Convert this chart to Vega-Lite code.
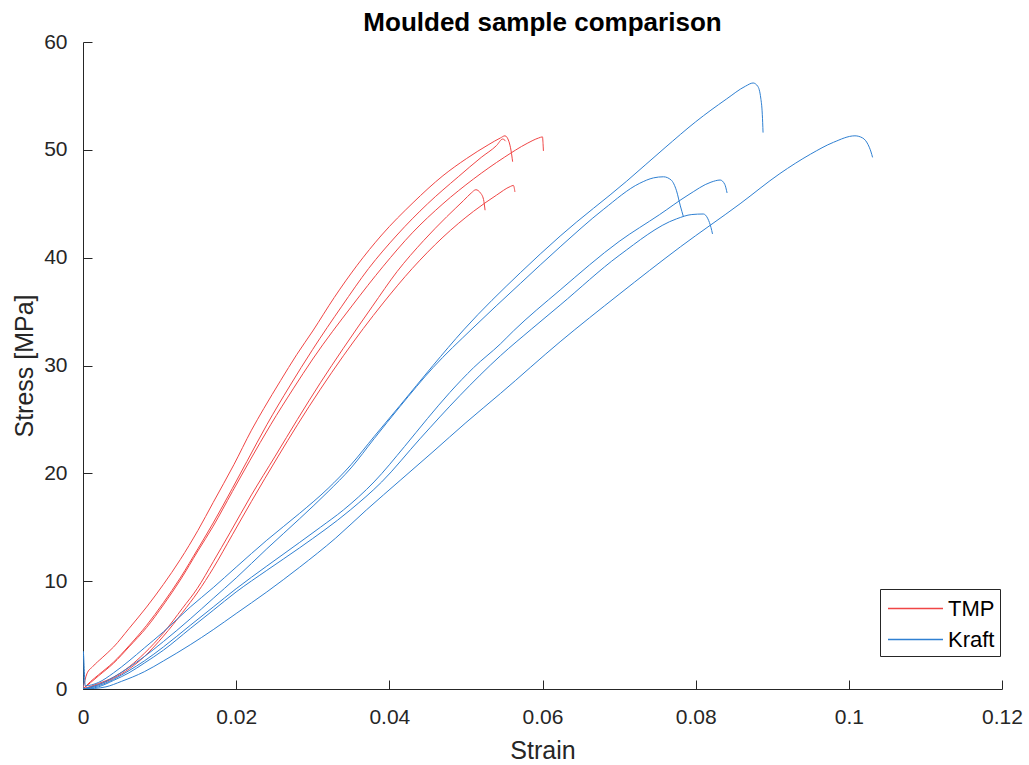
{
"$schema":"https://vega.github.io/schema/vega-lite/v6.json",
"width":919,"height":647,
"autosize":{"type":"none"},
"padding":{"left":83,"top":42,"right":27,"bottom":76},
"background":"white",
"title":{"text":"Moulded sample comparison","fontSize":26,"fontWeight":"bold","font":"Liberation Sans","color":"#000000","anchor":"middle","offset":-5},
"config":{"view":{"stroke":null},"axis":{"domainColor":"#262626","tickColor":"#262626","labelColor":"#262626","titleColor":"#262626","labelFont":"Liberation Sans","titleFont":"Liberation Sans","labelFontSize":21,"titleFontSize":25,"titleFontWeight":"normal","domainWidth":1,"tickWidth":1,"grid":false}},
"data":{"values":[
{"material":"TMP","specimen":"T1","idx":0,"strain":0,"stress":0},
{"material":"TMP","specimen":"T1","idx":1,"strain":0.0005,"stress":1.4},
{"material":"TMP","specimen":"T1","idx":2,"strain":0.0013,"stress":2.1},
{"material":"TMP","specimen":"T1","idx":3,"strain":0.0025,"stress":2.9},
{"material":"TMP","specimen":"T1","idx":4,"strain":0.004,"stress":3.9},
{"material":"TMP","specimen":"T1","idx":5,"strain":0.006,"stress":5.6},
{"material":"TMP","specimen":"T1","idx":6,"strain":0.0083,"stress":7.6},
{"material":"TMP","specimen":"T1","idx":7,"strain":0.0105,"stress":9.7},
{"material":"TMP","specimen":"T1","idx":8,"strain":0.0127,"stress":12.0},
{"material":"TMP","specimen":"T1","idx":9,"strain":0.015,"stress":14.7},
{"material":"TMP","specimen":"T1","idx":10,"strain":0.017,"stress":17.3},
{"material":"TMP","specimen":"T1","idx":11,"strain":0.0197,"stress":20.8},
{"material":"TMP","specimen":"T1","idx":12,"strain":0.022,"stress":24.0},
{"material":"TMP","specimen":"T1","idx":13,"strain":0.0236,"stress":26.0},
{"material":"TMP","specimen":"T1","idx":14,"strain":0.0258,"stress":28.6},
{"material":"TMP","specimen":"T1","idx":15,"strain":0.0279,"stress":31.0},
{"material":"TMP","specimen":"T1","idx":16,"strain":0.030,"stress":33.2},
{"material":"TMP","specimen":"T1","idx":17,"strain":0.0328,"stress":36.3},
{"material":"TMP","specimen":"T1","idx":18,"strain":0.0358,"stress":39.3},
{"material":"TMP","specimen":"T1","idx":19,"strain":0.039,"stress":42.1},
{"material":"TMP","specimen":"T1","idx":20,"strain":0.0431,"stress":45.1},
{"material":"TMP","specimen":"T1","idx":21,"strain":0.047,"stress":47.6},
{"material":"TMP","specimen":"T1","idx":22,"strain":0.0501,"stress":49.2},
{"material":"TMP","specimen":"T1","idx":23,"strain":0.053,"stress":50.5},
{"material":"TMP","specimen":"T1","idx":24,"strain":0.0545,"stress":51.1},
{"material":"TMP","specimen":"T1","idx":25,"strain":0.0551,"stress":51.3},
{"material":"TMP","specimen":"T1","idx":26,"strain":0.0556,"stress":50.8},
{"material":"TMP","specimen":"T1","idx":27,"strain":0.0559,"stress":49.9},
{"material":"TMP","specimen":"T1","idx":28,"strain":0.0561,"stress":48.9},
{"material":"TMP","specimen":"T2","idx":0,"strain":0,"stress":0},
{"material":"TMP","specimen":"T2","idx":1,"strain":0.001,"stress":0.7},
{"material":"TMP","specimen":"T2","idx":2,"strain":0.002,"stress":1.3},
{"material":"TMP","specimen":"T2","idx":3,"strain":0.004,"stress":2.5},
{"material":"TMP","specimen":"T2","idx":4,"strain":0.006,"stress":4.0},
{"material":"TMP","specimen":"T2","idx":5,"strain":0.0083,"stress":5.9},
{"material":"TMP","specimen":"T2","idx":6,"strain":0.0105,"stress":8.0},
{"material":"TMP","specimen":"T2","idx":7,"strain":0.0127,"stress":10.3},
{"material":"TMP","specimen":"T2","idx":8,"strain":0.015,"stress":13.0},
{"material":"TMP","specimen":"T2","idx":9,"strain":0.017,"stress":15.4},
{"material":"TMP","specimen":"T2","idx":10,"strain":0.0195,"stress":18.6},
{"material":"TMP","specimen":"T2","idx":11,"strain":0.0214,"stress":21.1},
{"material":"TMP","specimen":"T2","idx":12,"strain":0.024,"stress":24.5},
{"material":"TMP","specimen":"T2","idx":13,"strain":0.027,"stress":28.1},
{"material":"TMP","specimen":"T2","idx":14,"strain":0.030,"stress":31.5},
{"material":"TMP","specimen":"T2","idx":15,"strain":0.0338,"stress":35.5},
{"material":"TMP","specimen":"T2","idx":16,"strain":0.0373,"stress":39.0},
{"material":"TMP","specimen":"T2","idx":17,"strain":0.041,"stress":42.1},
{"material":"TMP","specimen":"T2","idx":18,"strain":0.045,"stress":45.0},
{"material":"TMP","specimen":"T2","idx":19,"strain":0.049,"stress":47.5},
{"material":"TMP","specimen":"T2","idx":20,"strain":0.052,"stress":49.3},
{"material":"TMP","specimen":"T2","idx":21,"strain":0.054,"stress":50.4},
{"material":"TMP","specimen":"T2","idx":22,"strain":0.0548,"stress":51.0},
{"material":"TMP","specimen":"T2","idx":23,"strain":0.0552,"stress":50.8},
{"material":"TMP","specimen":"T3","idx":0,"strain":0,"stress":0},
{"material":"TMP","specimen":"T3","idx":1,"strain":0.001,"stress":0.6},
{"material":"TMP","specimen":"T3","idx":2,"strain":0.002,"stress":1.2},
{"material":"TMP","specimen":"T3","idx":3,"strain":0.004,"stress":2.4},
{"material":"TMP","specimen":"T3","idx":4,"strain":0.006,"stress":3.9},
{"material":"TMP","specimen":"T3","idx":5,"strain":0.0083,"stress":5.7},
{"material":"TMP","specimen":"T3","idx":6,"strain":0.0105,"stress":7.8},
{"material":"TMP","specimen":"T3","idx":7,"strain":0.0127,"stress":10.1},
{"material":"TMP","specimen":"T3","idx":8,"strain":0.015,"stress":12.8},
{"material":"TMP","specimen":"T3","idx":9,"strain":0.017,"stress":15.1},
{"material":"TMP","specimen":"T3","idx":10,"strain":0.0195,"stress":18.3},
{"material":"TMP","specimen":"T3","idx":11,"strain":0.0218,"stress":21.2},
{"material":"TMP","specimen":"T3","idx":12,"strain":0.0245,"stress":24.5},
{"material":"TMP","specimen":"T3","idx":13,"strain":0.0275,"stress":27.9},
{"material":"TMP","specimen":"T3","idx":14,"strain":0.030,"stress":30.6},
{"material":"TMP","specimen":"T3","idx":15,"strain":0.0352,"stress":35.6},
{"material":"TMP","specimen":"T3","idx":16,"strain":0.0392,"stress":39.2},
{"material":"TMP","specimen":"T3","idx":17,"strain":0.043,"stress":42.3},
{"material":"TMP","specimen":"T3","idx":18,"strain":0.047,"stress":45.0},
{"material":"TMP","specimen":"T3","idx":19,"strain":0.051,"stress":47.3},
{"material":"TMP","specimen":"T3","idx":20,"strain":0.055,"stress":49.3},
{"material":"TMP","specimen":"T3","idx":21,"strain":0.058,"stress":50.6},
{"material":"TMP","specimen":"T3","idx":22,"strain":0.0595,"stress":51.1},
{"material":"TMP","specimen":"T3","idx":23,"strain":0.06,"stress":51.2},
{"material":"TMP","specimen":"T3","idx":24,"strain":0.06007,"stress":50.6},
{"material":"TMP","specimen":"T3","idx":25,"strain":0.06012,"stress":49.9},
{"material":"TMP","specimen":"T4","idx":0,"strain":0,"stress":0},
{"material":"TMP","specimen":"T4","idx":1,"strain":0.002,"stress":0.5},
{"material":"TMP","specimen":"T4","idx":2,"strain":0.004,"stress":1.1},
{"material":"TMP","specimen":"T4","idx":3,"strain":0.0061,"stress":2.1},
{"material":"TMP","specimen":"T4","idx":4,"strain":0.008,"stress":3.3},
{"material":"TMP","specimen":"T4","idx":5,"strain":0.0105,"stress":5.2},
{"material":"TMP","specimen":"T4","idx":6,"strain":0.013,"stress":7.5},
{"material":"TMP","specimen":"T4","idx":7,"strain":0.0149,"stress":9.3},
{"material":"TMP","specimen":"T4","idx":8,"strain":0.017,"stress":11.8},
{"material":"TMP","specimen":"T4","idx":9,"strain":0.0192,"stress":14.5},
{"material":"TMP","specimen":"T4","idx":10,"strain":0.022,"stress":18.0},
{"material":"TMP","specimen":"T4","idx":11,"strain":0.0251,"stress":21.6},
{"material":"TMP","specimen":"T4","idx":12,"strain":0.028,"stress":25.0},
{"material":"TMP","specimen":"T4","idx":13,"strain":0.031,"stress":28.4},
{"material":"TMP","specimen":"T4","idx":14,"strain":0.034,"stress":31.6},
{"material":"TMP","specimen":"T4","idx":15,"strain":0.0378,"stress":35.5},
{"material":"TMP","specimen":"T4","idx":16,"strain":0.041,"stress":38.7},
{"material":"TMP","specimen":"T4","idx":17,"strain":0.0445,"stress":41.6},
{"material":"TMP","specimen":"T4","idx":18,"strain":0.0475,"stress":43.8},
{"material":"TMP","specimen":"T4","idx":19,"strain":0.0497,"stress":45.3},
{"material":"TMP","specimen":"T4","idx":20,"strain":0.0507,"stress":46.0},
{"material":"TMP","specimen":"T4","idx":21,"strain":0.0513,"stress":46.3},
{"material":"TMP","specimen":"T4","idx":22,"strain":0.0519,"stress":46.0},
{"material":"TMP","specimen":"T4","idx":23,"strain":0.0523,"stress":45.4},
{"material":"TMP","specimen":"T4","idx":24,"strain":0.0525,"stress":44.4},
{"material":"TMP","specimen":"T5","idx":0,"strain":0,"stress":0},
{"material":"TMP","specimen":"T5","idx":1,"strain":0.002,"stress":0.4},
{"material":"TMP","specimen":"T5","idx":2,"strain":0.004,"stress":1.0},
{"material":"TMP","specimen":"T5","idx":3,"strain":0.0061,"stress":1.9},
{"material":"TMP","specimen":"T5","idx":4,"strain":0.008,"stress":3.0},
{"material":"TMP","specimen":"T5","idx":5,"strain":0.0105,"stress":4.9},
{"material":"TMP","specimen":"T5","idx":6,"strain":0.013,"stress":7.1},
{"material":"TMP","specimen":"T5","idx":7,"strain":0.015,"stress":9.0},
{"material":"TMP","specimen":"T5","idx":8,"strain":0.017,"stress":11.2},
{"material":"TMP","specimen":"T5","idx":9,"strain":0.0195,"stress":14.3},
{"material":"TMP","specimen":"T5","idx":10,"strain":0.022,"stress":17.4},
{"material":"TMP","specimen":"T5","idx":11,"strain":0.0255,"stress":21.6},
{"material":"TMP","specimen":"T5","idx":12,"strain":0.028,"stress":24.5},
{"material":"TMP","specimen":"T5","idx":13,"strain":0.031,"stress":27.8},
{"material":"TMP","specimen":"T5","idx":14,"strain":0.034,"stress":30.9},
{"material":"TMP","specimen":"T5","idx":15,"strain":0.0392,"stress":35.8},
{"material":"TMP","specimen":"T5","idx":16,"strain":0.043,"stress":39.0},
{"material":"TMP","specimen":"T5","idx":17,"strain":0.047,"stress":41.9},
{"material":"TMP","specimen":"T5","idx":18,"strain":0.051,"stress":44.3},
{"material":"TMP","specimen":"T5","idx":19,"strain":0.054,"stress":45.8},
{"material":"TMP","specimen":"T5","idx":20,"strain":0.0558,"stress":46.6},
{"material":"TMP","specimen":"T5","idx":21,"strain":0.0562,"stress":46.7},
{"material":"TMP","specimen":"T5","idx":22,"strain":0.0564,"stress":46.1},
{"material":"Kraft","specimen":"K1","idx":0,"strain":0,"stress":0},
{"material":"Kraft","specimen":"K1","idx":1,"strain":0.00002,"stress":3.5},
{"material":"Kraft","specimen":"K1","idx":2,"strain":0.0003,"stress":0.3},
{"material":"Kraft","specimen":"K1","idx":3,"strain":0.002,"stress":0.6},
{"material":"Kraft","specimen":"K1","idx":4,"strain":0.004,"stress":1.5},
{"material":"Kraft","specimen":"K1","idx":5,"strain":0.006,"stress":2.6},
{"material":"Kraft","specimen":"K1","idx":6,"strain":0.008,"stress":3.8},
{"material":"Kraft","specimen":"K1","idx":7,"strain":0.0105,"stress":5.3},
{"material":"Kraft","specimen":"K1","idx":8,"strain":0.014,"stress":7.6},
{"material":"Kraft","specimen":"K1","idx":9,"strain":0.017,"stress":9.4},
{"material":"Kraft","specimen":"K1","idx":10,"strain":0.02,"stress":11.3},
{"material":"Kraft","specimen":"K1","idx":11,"strain":0.024,"stress":13.8},
{"material":"Kraft","specimen":"K1","idx":12,"strain":0.0283,"stress":16.3},
{"material":"Kraft","specimen":"K1","idx":13,"strain":0.032,"stress":18.6},
{"material":"Kraft","specimen":"K1","idx":14,"strain":0.035,"stress":20.8},
{"material":"Kraft","specimen":"K1","idx":15,"strain":0.038,"stress":23.4},
{"material":"Kraft","specimen":"K1","idx":16,"strain":0.0414,"stress":26.3},
{"material":"Kraft","specimen":"K1","idx":17,"strain":0.0457,"stress":30.0},
{"material":"Kraft","specimen":"K1","idx":18,"strain":0.0497,"stress":33.3},
{"material":"Kraft","specimen":"K1","idx":19,"strain":0.0571,"stress":38.6},
{"material":"Kraft","specimen":"K1","idx":20,"strain":0.0623,"stress":42.0},
{"material":"Kraft","specimen":"K1","idx":21,"strain":0.071,"stress":47.1},
{"material":"Kraft","specimen":"K1","idx":22,"strain":0.076,"stress":50.2},
{"material":"Kraft","specimen":"K1","idx":23,"strain":0.080,"stress":52.6},
{"material":"Kraft","specimen":"K1","idx":24,"strain":0.084,"stress":54.7},
{"material":"Kraft","specimen":"K1","idx":25,"strain":0.0865,"stress":55.9},
{"material":"Kraft","specimen":"K1","idx":26,"strain":0.0875,"stress":56.2},
{"material":"Kraft","specimen":"K1","idx":27,"strain":0.0881,"stress":55.9},
{"material":"Kraft","specimen":"K1","idx":28,"strain":0.0885,"stress":54.8},
{"material":"Kraft","specimen":"K1","idx":29,"strain":0.0887,"stress":53.3},
{"material":"Kraft","specimen":"K1","idx":30,"strain":0.0888,"stress":51.6},
{"material":"Kraft","specimen":"K2","idx":0,"strain":0,"stress":0},
{"material":"Kraft","specimen":"K2","idx":1,"strain":0.002,"stress":0.4},
{"material":"Kraft","specimen":"K2","idx":2,"strain":0.004,"stress":1.1},
{"material":"Kraft","specimen":"K2","idx":3,"strain":0.006,"stress":2.0},
{"material":"Kraft","specimen":"K2","idx":4,"strain":0.008,"stress":3.0},
{"material":"Kraft","specimen":"K2","idx":5,"strain":0.0105,"stress":4.4},
{"material":"Kraft","specimen":"K2","idx":6,"strain":0.014,"stress":6.5},
{"material":"Kraft","specimen":"K2","idx":7,"strain":0.017,"stress":8.4},
{"material":"Kraft","specimen":"K2","idx":8,"strain":0.02,"stress":10.3},
{"material":"Kraft","specimen":"K2","idx":9,"strain":0.024,"stress":13.0},
{"material":"Kraft","specimen":"K2","idx":10,"strain":0.0283,"stress":15.8},
{"material":"Kraft","specimen":"K2","idx":11,"strain":0.032,"stress":18.3},
{"material":"Kraft","specimen":"K2","idx":12,"strain":0.035,"stress":20.5},
{"material":"Kraft","specimen":"K2","idx":13,"strain":0.038,"stress":23.2},
{"material":"Kraft","specimen":"K2","idx":14,"strain":0.0414,"stress":26.2},
{"material":"Kraft","specimen":"K2","idx":15,"strain":0.0457,"stress":29.8},
{"material":"Kraft","specimen":"K2","idx":16,"strain":0.0508,"stress":33.4},
{"material":"Kraft","specimen":"K2","idx":17,"strain":0.0571,"stress":37.6},
{"material":"Kraft","specimen":"K2","idx":18,"strain":0.0623,"stress":41.0},
{"material":"Kraft","specimen":"K2","idx":19,"strain":0.068,"stress":44.5},
{"material":"Kraft","specimen":"K2","idx":20,"strain":0.0727,"stress":46.9},
{"material":"Kraft","specimen":"K2","idx":21,"strain":0.0745,"stress":47.4},
{"material":"Kraft","specimen":"K2","idx":22,"strain":0.0758,"stress":47.5},
{"material":"Kraft","specimen":"K2","idx":23,"strain":0.0768,"stress":47.2},
{"material":"Kraft","specimen":"K2","idx":24,"strain":0.0775,"stress":46.2},
{"material":"Kraft","specimen":"K2","idx":25,"strain":0.078,"stress":44.8},
{"material":"Kraft","specimen":"K2","idx":26,"strain":0.0784,"stress":43.8},
{"material":"Kraft","specimen":"K3","idx":0,"strain":0,"stress":0},
{"material":"Kraft","specimen":"K3","idx":1,"strain":0.002,"stress":0.3},
{"material":"Kraft","specimen":"K3","idx":2,"strain":0.004,"stress":0.9},
{"material":"Kraft","specimen":"K3","idx":3,"strain":0.006,"stress":1.7},
{"material":"Kraft","specimen":"K3","idx":4,"strain":0.008,"stress":2.6},
{"material":"Kraft","specimen":"K3","idx":5,"strain":0.0105,"stress":3.9},
{"material":"Kraft","specimen":"K3","idx":6,"strain":0.014,"stress":5.9},
{"material":"Kraft","specimen":"K3","idx":7,"strain":0.017,"stress":7.6},
{"material":"Kraft","specimen":"K3","idx":8,"strain":0.02,"stress":9.3},
{"material":"Kraft","specimen":"K3","idx":9,"strain":0.024,"stress":11.4},
{"material":"Kraft","specimen":"K3","idx":10,"strain":0.0283,"stress":13.6},
{"material":"Kraft","specimen":"K3","idx":11,"strain":0.031,"stress":15.0},
{"material":"Kraft","specimen":"K3","idx":12,"strain":0.034,"stress":16.6},
{"material":"Kraft","specimen":"K3","idx":13,"strain":0.038,"stress":19.2},
{"material":"Kraft","specimen":"K3","idx":14,"strain":0.042,"stress":22.5},
{"material":"Kraft","specimen":"K3","idx":15,"strain":0.045,"stress":25.1},
{"material":"Kraft","specimen":"K3","idx":16,"strain":0.0479,"stress":27.5},
{"material":"Kraft","specimen":"K3","idx":17,"strain":0.051,"stress":29.8},
{"material":"Kraft","specimen":"K3","idx":18,"strain":0.0545,"stress":32.0},
{"material":"Kraft","specimen":"K3","idx":19,"strain":0.0562,"stress":33.2},
{"material":"Kraft","specimen":"K3","idx":20,"strain":0.0623,"stress":37.0},
{"material":"Kraft","specimen":"K3","idx":21,"strain":0.070,"stress":41.5},
{"material":"Kraft","specimen":"K3","idx":22,"strain":0.0753,"stress":44.0},
{"material":"Kraft","specimen":"K3","idx":23,"strain":0.079,"stress":45.8},
{"material":"Kraft","specimen":"K3","idx":24,"strain":0.082,"stress":47.0},
{"material":"Kraft","specimen":"K3","idx":25,"strain":0.0832,"stress":47.2},
{"material":"Kraft","specimen":"K3","idx":26,"strain":0.0838,"stress":46.8},
{"material":"Kraft","specimen":"K3","idx":27,"strain":0.0841,"stress":46.0},
{"material":"Kraft","specimen":"K4","idx":0,"strain":0,"stress":0},
{"material":"Kraft","specimen":"K4","idx":1,"strain":0.002,"stress":0.2},
{"material":"Kraft","specimen":"K4","idx":2,"strain":0.004,"stress":0.8},
{"material":"Kraft","specimen":"K4","idx":3,"strain":0.006,"stress":1.5},
{"material":"Kraft","specimen":"K4","idx":4,"strain":0.008,"stress":2.4},
{"material":"Kraft","specimen":"K4","idx":5,"strain":0.0105,"stress":3.6},
{"material":"Kraft","specimen":"K4","idx":6,"strain":0.014,"stress":5.6},
{"material":"Kraft","specimen":"K4","idx":7,"strain":0.017,"stress":7.3},
{"material":"Kraft","specimen":"K4","idx":8,"strain":0.02,"stress":9.0},
{"material":"Kraft","specimen":"K4","idx":9,"strain":0.024,"stress":11.0},
{"material":"Kraft","specimen":"K4","idx":10,"strain":0.0283,"stress":13.1},
{"material":"Kraft","specimen":"K4","idx":11,"strain":0.0349,"stress":16.6},
{"material":"Kraft","specimen":"K4","idx":12,"strain":0.039,"stress":19.2},
{"material":"Kraft","specimen":"K4","idx":13,"strain":0.044,"stress":23.2},
{"material":"Kraft","specimen":"K4","idx":14,"strain":0.0492,"stress":27.2},
{"material":"Kraft","specimen":"K4","idx":15,"strain":0.0545,"stress":30.9},
{"material":"Kraft","specimen":"K4","idx":16,"strain":0.0586,"stress":33.4},
{"material":"Kraft","specimen":"K4","idx":17,"strain":0.0623,"stress":35.6},
{"material":"Kraft","specimen":"K4","idx":18,"strain":0.070,"stress":40.2},
{"material":"Kraft","specimen":"K4","idx":19,"strain":0.0775,"stress":43.6},
{"material":"Kraft","specimen":"K4","idx":20,"strain":0.0795,"stress":44.0},
{"material":"Kraft","specimen":"K4","idx":21,"strain":0.081,"stress":44.05},
{"material":"Kraft","specimen":"K4","idx":22,"strain":0.0816,"stress":43.6},
{"material":"Kraft","specimen":"K4","idx":23,"strain":0.082,"stress":42.8},
{"material":"Kraft","specimen":"K4","idx":24,"strain":0.0822,"stress":42.2},
{"material":"Kraft","specimen":"K5","idx":0,"strain":0,"stress":0},
{"material":"Kraft","specimen":"K5","idx":1,"strain":0.0015,"stress":0.05},
{"material":"Kraft","specimen":"K5","idx":2,"strain":0.003,"stress":0.2},
{"material":"Kraft","specimen":"K5","idx":3,"strain":0.005,"stress":0.7},
{"material":"Kraft","specimen":"K5","idx":4,"strain":0.008,"stress":1.6},
{"material":"Kraft","specimen":"K5","idx":5,"strain":0.0105,"stress":2.6},
{"material":"Kraft","specimen":"K5","idx":6,"strain":0.014,"stress":4.1},
{"material":"Kraft","specimen":"K5","idx":7,"strain":0.017,"stress":5.5},
{"material":"Kraft","specimen":"K5","idx":8,"strain":0.02,"stress":7.0},
{"material":"Kraft","specimen":"K5","idx":9,"strain":0.024,"stress":9.0},
{"material":"Kraft","specimen":"K5","idx":10,"strain":0.0283,"stress":11.3},
{"material":"Kraft","specimen":"K5","idx":11,"strain":0.033,"stress":14.0},
{"material":"Kraft","specimen":"K5","idx":12,"strain":0.037,"stress":16.6},
{"material":"Kraft","specimen":"K5","idx":13,"strain":0.0415,"stress":19.4},
{"material":"Kraft","specimen":"K5","idx":14,"strain":0.0457,"stress":22.0},
{"material":"Kraft","specimen":"K5","idx":15,"strain":0.050,"stress":24.7},
{"material":"Kraft","specimen":"K5","idx":16,"strain":0.0545,"stress":27.4},
{"material":"Kraft","specimen":"K5","idx":17,"strain":0.0623,"stress":32.2},
{"material":"Kraft","specimen":"K5","idx":18,"strain":0.070,"stress":36.6},
{"material":"Kraft","specimen":"K5","idx":19,"strain":0.078,"stress":41.0},
{"material":"Kraft","specimen":"K5","idx":20,"strain":0.0858,"stress":45.0},
{"material":"Kraft","specimen":"K5","idx":21,"strain":0.091,"stress":47.8},
{"material":"Kraft","specimen":"K5","idx":22,"strain":0.095,"stress":49.6},
{"material":"Kraft","specimen":"K5","idx":23,"strain":0.098,"stress":50.7},
{"material":"Kraft","specimen":"K5","idx":24,"strain":0.1008,"stress":51.3},
{"material":"Kraft","specimen":"K5","idx":25,"strain":0.1018,"stress":51.1},
{"material":"Kraft","specimen":"K5","idx":26,"strain":0.1025,"stress":50.5},
{"material":"Kraft","specimen":"K5","idx":27,"strain":0.1029,"stress":49.8},
{"material":"Kraft","specimen":"K5","idx":28,"strain":0.1031,"stress":49.3}
]},
"mark":{"type":"line","strokeWidth":1,"clip":true,"interpolate":"monotone"},
"encoding":{
"x":{"field":"strain","type":"quantitative","scale":{"domain":[0,0.12],"nice":false,"zero":false},"axis":{"title":"Strain","values":[0,0.02,0.04,0.06,0.08,0.1,0.12],"format":".2~f","labelFlush":false,"tickSize":-9,"labelPadding":26,"titlePadding":11}},
"y":{"field":"stress","type":"quantitative","scale":{"domain":[0,60],"nice":false},"axis":{"title":"Stress [MPa]","values":[0,10,20,30,40,50,60],"format":"d","labelFlush":false,"tickSize":-9,"labelPadding":25,"titlePadding":6}},
"color":{"field":"material","type":"nominal","scale":{"domain":["TMP","Kraft"],"range":["#F04545","#2F80D2"]},"legend":{"orient":"none","legendX":797,"legendY":547,"title":null,"symbolType":"M-2,0H2","symbolSize":756,"symbolStrokeWidth":1.5,"symbolOffset":16,"labelFontSize":22,"labelFont":"Liberation Sans","labelColor":"#000000","strokeColor":"#262626","fillColor":"white","padding":5,"rowPadding":5,"labelOffset":18}},
"detail":{"field":"specimen"},
"order":{"field":"idx","type":"quantitative"}
}
}
